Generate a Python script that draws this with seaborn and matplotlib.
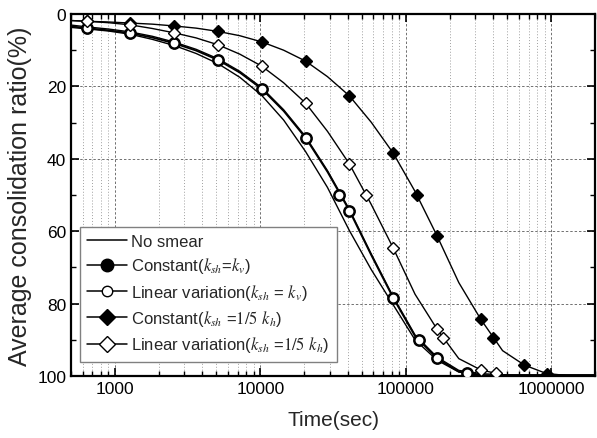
import matplotlib
matplotlib.use("Agg")
import matplotlib.pyplot as plt
from matplotlib.lines import Line2D
from matplotlib.ticker import FixedLocator, NullFormatter, FuncFormatter
import pandas as pd
import seaborn as sns

sns.set_style("ticks")
plt.rcParams['font.family'] = ['Liberation Sans', 'DejaVu Sans']
plt.rcParams['mathtext.fontset'] = 'stix'

# --- values (time in sec, consolidation ratio %) ---
# times at which the curves were read
t_curve = [500, 640, 905, 1280, 1810, 2560, 3620, 5120, 7241, 10240, 14482, 20480,
           28963, 40960, 57926, 81920, 115852, 163840, 231705, 327680, 463410,
           655360, 926819, 1310720, 1853638, 2000000]

u_nosmear = [3.7, 4.1, 4.7, 5.6, 7.0, 8.7, 10.9, 13.7, 17.5, 22.5, 29.3, 38.0,
             47.9, 59.8, 70.6, 80.3, 90.0, 95.6, 98.9, 99.8, 100,
             100, 100, 100, 100, 100]
u_circ_curve = [3.4, 3.9, 4.5, 5.3, 6.5, 8.1, 10.1, 12.7, 16.2, 20.7, 26.8, 34.2,
                43.6, 54.3, 66.6, 78.4, 89.0, 95.1, 98.8, 99.7, 100,
                100, 100, 100, 100, 100]
u_dia_const_curve = [1.8, 2.0, 2.2, 2.5, 2.8, 3.3, 3.9, 4.8, 6.0, 7.7, 10.0, 13.0,
                     17.3, 22.6, 29.9, 38.4, 49.0, 61.2, 74.2, 84.3, 93.0,
                     97.0, 99.3, 99.9, 100, 100]
u_dia_lin_curve = [1.8, 2.0, 2.4, 3.0, 4.0, 5.2, 6.6, 8.5, 11.1, 14.4, 19.0, 24.6,
                   32.4, 41.4, 52.6, 64.6, 77.4, 87.0, 95.2, 98.3, 99.7,
                   100, 100, 100, 100, 100]

# marker points
t_circ = [640, 1280, 2560, 5120, 10240, 20480, 35000, 40960, 81920, 122880, 163840, 262144]
u_circ_const = [3.9, 5.3, 8.1, 12.7, 20.7, 34.2, 49.9, 54.3, 78.4, 90.1, 95.1, 99.2]
u_circ_lin = [3.9, 5.3, 8.1, 12.7, 20.7, 34.2, 49.9, 54.3, 78.4, 90.1, 95.1, 99.2]

t_dia_const = [640, 1280, 2560, 5120, 10240, 20480, 40960, 81920, 120000, 163840,
               327680, 400000, 655360, 940000]
u_dia_const = [2.0, 2.5, 3.3, 4.8, 7.7, 13.0, 22.6, 38.4, 50.0, 61.2,
               84.3, 89.5, 97.0, 99.4]

t_dia_lin = [640, 1280, 2560, 5120, 10240, 20480, 40960, 53700, 81920, 163840,
             181000, 327680, 417000]
u_dia_lin = [2.0, 3.0, 5.2, 8.5, 14.4, 24.6, 41.4, 50.0, 64.6, 87.0,
             89.6, 98.3, 99.3]

labels = ['No smear',
          r'Constant($k_{sh}$=$k_v$)',
          r'Linear variation($k_{sh}$ = $k_v$)',
          r'Constant($k_{sh}$ =$\mathit{1/5}$ $k_h$)',
          r'Linear variation($k_{sh}$ =$\mathit{1/5}$ $k_h$)']

curves = pd.DataFrame({
    't': t_curve,
    'nosmear': u_nosmear,
    'circ': u_circ_curve,
    'dia_const': u_dia_const_curve,
    'dia_lin': u_dia_lin_curve,
})

fig = plt.figure(figsize=(5.97, 4.39), dpi=100)
ax = fig.add_axes([0.119, 0.1412, 0.8776, 0.8246])

lw = 1.0
sns.lineplot(data=curves, x='t', y='nosmear', ax=ax, color='black', lw=lw, sort=False)
sns.lineplot(data=curves, x='t', y='circ', ax=ax, color='black', lw=1.3, sort=False)
sns.lineplot(x=curves['t'], y=curves['circ'] - 0.35, ax=ax, color='black', lw=1.0, sort=False)
sns.lineplot(data=curves, x='t', y='dia_const', ax=ax, color='black', lw=lw, sort=False)
sns.lineplot(data=curves, x='t', y='dia_lin', ax=ax, color='black', lw=lw, sort=False)

# markers
ax.plot(t_circ, u_circ_const, ls='none', marker='o', ms=8.2, mfc='black', mec='black', zorder=4)
ax.plot(t_circ, u_circ_lin, ls='none', marker='o', ms=6.6, mfc='white', mec='black', mew=1.0, zorder=5)
ax.plot(t_dia_const, u_dia_const, ls='none', marker='D', ms=6.6, mfc='black', mec='black', mew=1.0, zorder=4)
ax.plot(t_dia_lin, u_dia_lin, ls='none', marker='D', ms=6.6, mfc='white', mec='black', mew=1.0, zorder=5)

ax.set_xscale('log')
ax.set_xlim(500, 2000000)
ax.set_ylim(100, 0)

ax.xaxis.set_major_locator(FixedLocator([1000, 10000, 100000, 1000000]))
ax.xaxis.set_major_formatter(FuncFormatter(lambda v, p: f'{int(round(v))}'))
minors = [m * 10 ** e for e in range(2, 7) for m in range(2, 10)]
ax.xaxis.set_minor_locator(FixedLocator(minors))
ax.xaxis.set_minor_formatter(NullFormatter())
ax.yaxis.set_major_locator(FixedLocator([0, 20, 40, 60, 80, 100]))
ax.yaxis.set_minor_locator(FixedLocator([10, 30, 50, 70, 90]))

ax.grid(True, which='major', axis='both', ls=(0, (2.5, 2)), color='#707070', lw=0.7)
ax.grid(True, which='minor', axis='x', ls=(0, (1, 2)), color='#a0a0a0', lw=0.7)

ax.tick_params(which='both', direction='in', top=True, right=True, colors='black',
               labelsize=12.5)
ax.tick_params(which='major', length=6, width=1.2)
ax.tick_params(which='minor', length=3.5, width=1.0)
for s in ax.spines.values():
    s.set_linewidth(1.6)
    s.set_color('black')

ax.set_xlabel('Time(sec)', fontsize=15, labelpad=10)
ax.set_ylabel('Average consolidation ratio(%)', fontsize=18, labelpad=4)

handles = [
    Line2D([], [], color='black', lw=1.1),
    Line2D([], [], color='black', lw=1.1, marker='o', ms=9, mfc='black', mec='black'),
    Line2D([], [], color='black', lw=1.1, marker='o', ms=7.5, mfc='white', mec='black'),
    Line2D([], [], color='black', lw=1.1, marker='D', ms=8, mfc='black', mec='black'),
    Line2D([], [], color='black', lw=1.1, marker='D', ms=8, mfc='white', mec='black'),
]
leg = ax.legend(handles, labels, loc='lower left', bbox_to_anchor=(0.017, 0.039),
                borderaxespad=0, fontsize=12, handlelength=2.4, handletextpad=0.2,
                labelspacing=0.38, borderpad=0.45, fancybox=False, framealpha=1,
                edgecolor='#808080')
leg.get_frame().set_linewidth(1.0)

fig.savefig('out.png', dpi=100)
